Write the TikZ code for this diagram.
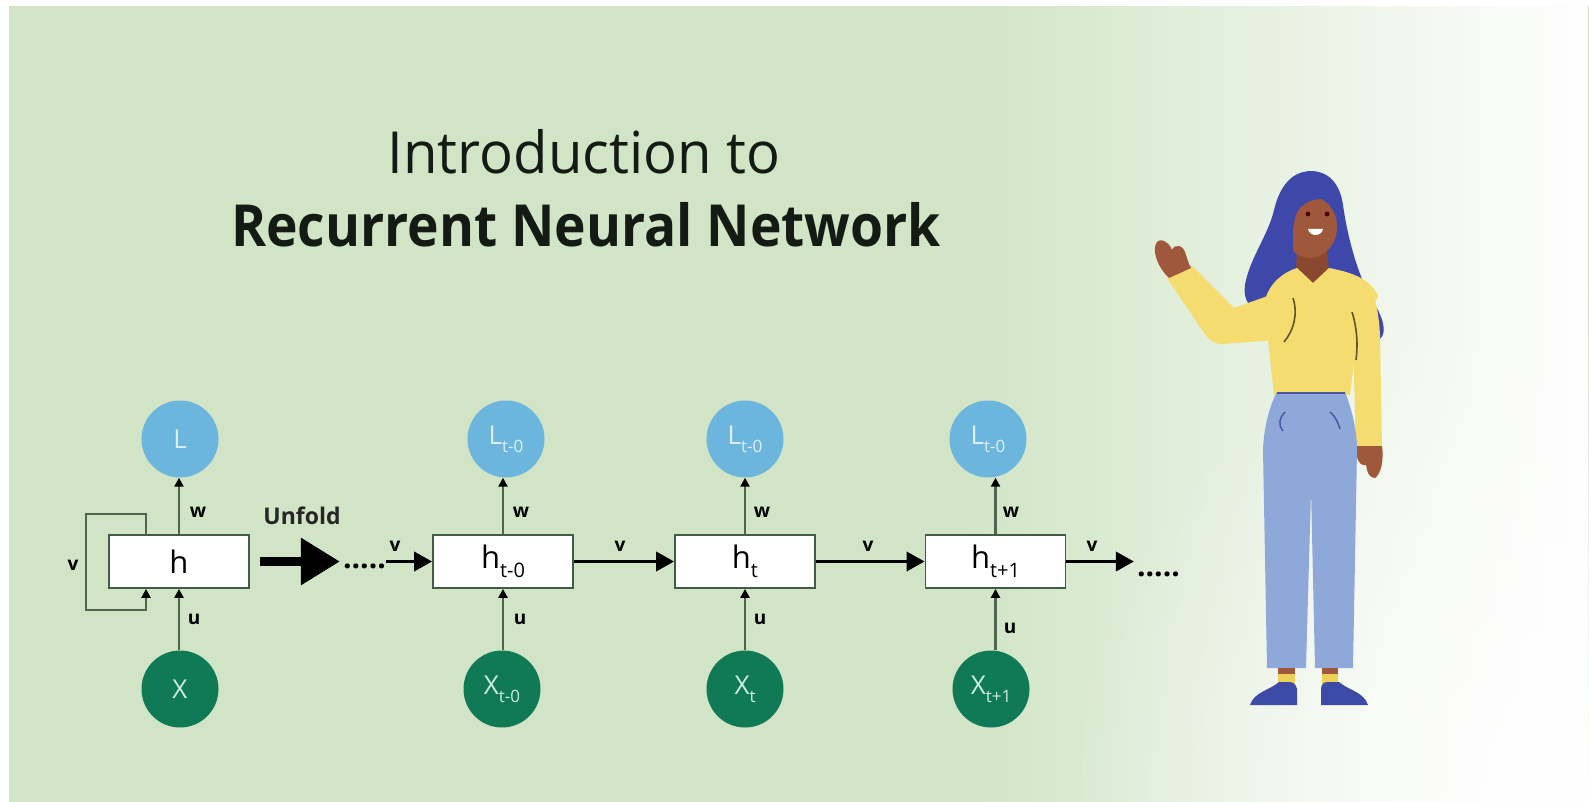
\documentclass[tikz,border=0pt]{standalone}
\usepackage{fontspec}
\setmainfont{Open Sans}
\newfontfamily\titlefont[FakeStretch=0.97]{Open Sans}
\newfontfamily\titleboldfont[FakeStretch=0.92]{Open Sans}
\usetikzlibrary{arrows.meta,fadings}

\definecolor{bg}{RGB}{209,229,198}
\definecolor{lblue}{RGB}{108,182,222}
\definecolor{ltext}{RGB}{222,240,250}
\definecolor{xgreen}{RGB}{16,122,86}
\definecolor{xtext}{RGB}{205,240,226}
\definecolor{connline}{RGB}{78,102,80}
\definecolor{boxline}{RGB}{62,92,70}
\definecolor{titleink}{RGB}{20,26,20}
\definecolor{hair}{RGB}{62,72,170}
\definecolor{skin}{RGB}{160,88,60}
\definecolor{skindark}{RGB}{138,72,48}
\definecolor{sweater}{RGB}{245,220,112}
\definecolor{foldline}{RGB}{95,85,35}
\definecolor{pants}{RGB}{143,168,218}
\definecolor{pantsline}{RGB}{72,88,160}
\definecolor{socks}{RGB}{238,208,88}
\definecolor{shoe}{RGB}{61,75,166}

\tikzfading[name=faderight, left color=transparent!100, right color=transparent!0]
\tikzfading[name=glowfade, inner color=transparent!0, outer color=transparent!100]

\newcommand\boxsub[1]{\raisebox{-0.27em}{\fontsize{20}{20}\selectfont #1}}
\newcommand\circsub[1]{\raisebox{-0.3em}{\fontsize{17}{17}\selectfont #1}}

\tikzset{
  lnode/.style={circle, fill=lblue, minimum size=77pt, inner sep=0pt,
    text=ltext, font=\fontsize{26}{26}\selectfont},
  xnode/.style={circle, fill=xgreen, minimum size=77pt, inner sep=0pt,
    text=xtext, font=\fontsize{26}{26}\selectfont},
  hbox/.style={rectangle, draw=boxline, line width=1.8pt, fill=white,
    minimum width=140pt, minimum height=53pt, inner sep=0pt,
    font=\fontsize{31}{31}\selectfont},
  vconn/.style={draw=connline, line width=2.6pt,
    -{Triangle[length=9pt,width=9pt,color=black]}},
  loopconn/.style={draw=connline, line width=2.2pt,
    -{Triangle[length=9pt,width=9pt,color=black]}},
  harrow/.style={draw=black, line width=3.6pt,
    -{Triangle[length=18pt,width=19pt]}},
  bigarrow/.style={draw=black, line width=9pt,
    -{Triangle[length=39pt,width=45pt]}},
  wlab/.style={inner sep=0pt, font=\bfseries\fontsize{19}{19}\selectfont},
  dotsn/.style={inner sep=0pt, font=\bfseries\fontsize{30}{30}\selectfont},
  fold/.style={draw=foldline, line width=1.6pt},
  pocket/.style={draw=pantsline, line width=1.5pt},
}

\begin{document}
\begin{tikzpicture}[x=1pt,y=-1pt]
\useasboundingbox (0,0) rectangle (1589,802);
% page and background
\fill[white] (0,0) rectangle (1589,802);
\fill[bg] (9,6) rectangle (1589,802);
\fill[white, path fading=faderight] (960,6) rectangle (1589,802);
\fill[white, path fading=glowfade, fit fading=true] (1589,802) circle (520pt);

% title
\node[anchor=base, text=titleink, font=\titlefont\fontsize{58}{60}\selectfont]
  (title1) at (584,174) {Introduction to};
\node[anchor=base, text=titleink, font=\titleboldfont\bfseries\fontsize{58}{60}\selectfont]
  (title2) at (586,247) {Recurrent Neural Network};

% folded network
\node[lnode] (L0) at (180,439) {L};
\node[hbox]  (h0) at (179,561.5) {h};
\node[xnode] (X0) at (180,689) {X};

% unfolded network
\node[lnode] (L1) at (506,439) {L\circsub{t-0}};
\node[hbox]  (h1) at (503,561.5) {h\boxsub{t-0}};
\node[xnode] (X1) at (502,689) {X\circsub{t-0}};

\node[lnode] (L2) at (745,439) {L\circsub{t-0}};
\node[hbox]  (h2) at (745,561.5) {h\boxsub{t}};
\node[xnode] (X2) at (745,689) {X\circsub{t}};

\node[lnode] (L3) at (988,439) {L\circsub{t-0}};
\node[hbox]  (h3) at (995.5,561.5) {h\boxsub{t+1}};
\node[xnode] (X3) at (991,689) {X\circsub{t+1}};

% dotted continuations
\node[dotsn, anchor=base] (dotsA) at (364.5,568) {.....};
\node[dotsn, anchor=base] (dotsB) at (1158.5,576) {.....};

% vertical connectors
\foreach \i in {0,1,2,3} {
  \draw[vconn] (h\i.north) -- (h\i.north |- L\i.south);
  \draw[vconn] (h\i.south |- X\i.north) -- (h\i.south);
}

% self loop on h
\draw[loopconn] ([xshift=-33pt]h0.north) -- ++(0,-20) -- ++(-60,0)
  -- ++(0,96) -- ++(60,0) -- ([xshift=-33pt]h0.south);
\node[wlab] (vloop) at (73,565) {v};

% labels w and u
\node[wlab] (w0) at (198,512) {w};
\node[wlab] (u0) at (194,619) {u};
\node[wlab] (w1) at (521,512) {w};
\node[wlab] (u1) at (520,619) {u};
\node[wlab] (w2) at (762,512) {w};
\node[wlab] (u2) at (760,619) {u};
\node[wlab] (w3) at (1011,512) {w};
\node[wlab] (u3) at (1010,628) {u};

% unfold arrow
\node[inner sep=0pt, text=black!85, font=\bfseries\fontsize{23}{23}\selectfont]
  (unfold) at (302,516) {Unfold};
\draw[bigarrow, shorten <=10pt, shorten >=3pt] (h0.east) -- (h0.east -| dotsA.west);

% recurrent arrows
\draw[harrow] (dotsA.east |- h1.west) -- (h1.west);
\draw[harrow] (h1.east) -- (h2.west);
\draw[harrow] (h2.east) -- (h3.west);
\draw[harrow, shorten >=3pt] (h3.east) -- (h3.east -| dotsB.west);
\node[wlab] (v0) at (395,546) {v};
\node[wlab] (v1) at (620,546) {v};
\node[wlab] (v2) at (868,546) {v};
\node[wlab] (v3) at (1092,546) {v};

% presenter figure
\begin{scope}
  % hair
  \fill[hair] (1310,171) .. controls (1330,171) and (1340,185) .. (1343,205)
    .. controls (1348,240) and (1358,275) .. (1372,300)
    .. controls (1382,315) and (1388,332) .. (1380,339)
    -- (1330,300) -- (1262,312)
    .. controls (1246,308) and (1242,295) .. (1246,280)
    .. controls (1252,255) and (1268,235) .. (1274,210)
    .. controls (1280,185) and (1292,172) .. (1310,171) -- cycle;
  % neck
  \fill[skindark] (1297,248) -- (1327,248) -- (1329,272) -- (1313,284) -- (1296,272) -- cycle;
  % face
  \fill[skin] (1310,227) ellipse [x radius=27pt, y radius=31pt];
  % fringe
  \fill[hair] (1284,258) .. controls (1278,230) and (1282,200) .. (1305,190)
    .. controls (1322,184) and (1336,190) .. (1340,202)
    .. controls (1325,196) and (1305,198) .. (1297,212)
    .. controls (1292,225) and (1292,242) .. (1294,258) -- cycle;
  % eyes and smile
  \fill[black!70!red] (1308,214) circle (2.4pt);
  \fill[black!70!red] (1327,214) circle (2.4pt);
  \fill[white] (1308,229) -- (1323,229) .. controls (1321,237) and (1310,237) .. (1308,229) -- cycle;
  % raised arm
  \fill[sweater] (1167,278) -- (1192,266) -- (1234,308) -- (1276,293)
    -- (1276,340) -- (1222,344)
    .. controls (1213,344) and (1208,339) .. (1204,333) -- cycle;
  \fill[skin] (1169,278) .. controls (1158,268) and (1151,250) .. (1157,242)
    .. controls (1162,237) and (1170,244) .. (1172,250)
    .. controls (1175,243) and (1184,245) .. (1186,255)
    .. controls (1188,262) and (1190,266) .. (1191,268) -- cycle;
  % torso
  \fill[sweater] (1265,300) .. controls (1270,282) and (1284,272) .. (1297,268)
    -- (1313,283) -- (1329,268)
    .. controls (1350,272) and (1370,278) .. (1378,296)
    -- (1356,345) -- (1350,395) -- (1274,395) -- (1268,340) -- cycle;
  % lowered arm
  \fill[sweater] (1350,276) .. controls (1372,282) and (1378,300) .. (1380,335)
    -- (1382,448) -- (1356,449) -- (1353,340) -- cycle;
  \fill[skin] (1357,446) -- (1382,446) .. controls (1384,460) and (1381,474) .. (1375,478)
    .. controls (1369,478) and (1367,472) .. (1366,465)
    .. controls (1362,466) and (1358,463) .. (1357,456) -- cycle;
  % sweater folds
  \draw[fold] (1293,298) .. controls (1298,314) and (1294,330) .. (1284,342);
  \draw[fold] (1352,312) .. controls (1357,328) and (1358,344) .. (1356,360);
  % trousers
  \fill[pants] (1277,392) -- (1345,392) .. controls (1352,410) and (1357,430) .. (1357,450)
    -- (1353,668) -- (1315,668) -- (1311,490) -- (1306,668) -- (1267,668)
    -- (1263,450) .. controls (1264,425) and (1270,405) .. (1277,392) -- cycle;
  \draw[draw=pantsline, line width=2.4pt] (1277,393) -- (1345,393);
  \draw[pocket] (1285,412) .. controls (1279,418) and (1278,426) .. (1283,431);
  \draw[pocket] (1330,412) .. controls (1336,417) and (1338,423) .. (1340,429);
  % ankles and socks
  \fill[skin] (1278,668) rectangle (1295,674);
  \fill[skin] (1322,668) rectangle (1338,674);
  \fill[socks] (1278,674) rectangle (1295,684);
  \fill[socks] (1322,674) rectangle (1338,684);
  % shoes
  \fill[shoe] (1250,705) -- (1297,705) -- (1297,689) .. controls (1296,684) and (1293,682) .. (1289,682)
    -- (1279,682) .. controls (1270,690) and (1254,692) .. (1250,705) -- cycle;
  \fill[shoe] (1321,705) -- (1368,705) .. controls (1364,692) and (1348,690) .. (1339,682)
    -- (1328,682) .. controls (1324,682) and (1321,684) .. (1321,689) -- cycle;
\end{scope}
\end{tikzpicture}
\end{document}
